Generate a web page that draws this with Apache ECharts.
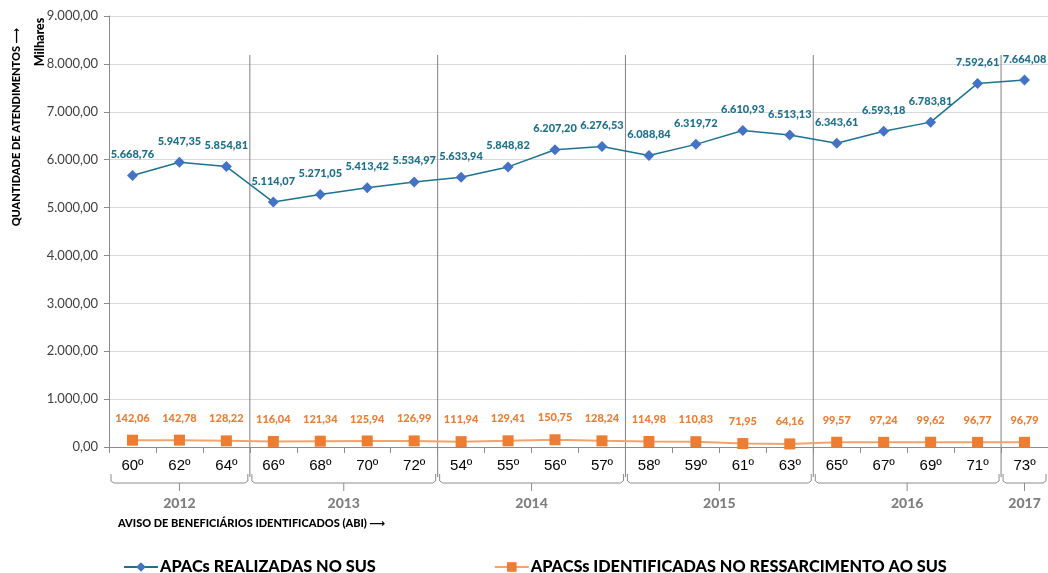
<!DOCTYPE html>
<html>
<head>
<meta charset="utf-8">
<script src="https://cdn.jsdelivr.net/npm/echarts@6/dist/echarts.min.js"></script>
<style>
  html, body { margin: 0; padding: 0; background: #fff; }
  #chart { width: 1048px; height: 573px; }
</style>
</head>
<body>
<div id="chart"></div>
<script>
// avisos (ABI), em ordem do gráfico
var categories = ["60º", "62º", "64º", "66º", "68º", "70º", "72º", "54º", "55º", "56º", "57º",
  "58º", "59º", "61º", "63º", "65º", "67º", "69º", "71º", "73º"];
// anos e quantos avisos cada um tem
var years = ["2012", "2013", "2014", "2015", "2016", "2017"];
var yearSizes = [3, 4, 4, 4, 4, 1];
// valores em milhares
var apacsSus = [5668.76, 5947.35, 5854.81, 5114.07, 5271.05, 5413.42, 5534.97, 5633.94, 5848.82,
  6207.20, 6276.53, 6088.84, 6319.72, 6610.93, 6513.13, 6343.61, 6593.18, 6783.81, 7592.61, 7664.08];
var apacsRessarcimento = [142.06, 142.78, 128.22, 116.04, 121.34, 125.94, 126.99, 111.94, 129.41,
  150.75, 128.24, 114.98, 110.83, 71.95, 64.16, 99.57, 97.24, 99.62, 96.77, 96.79];
var serieNames = ["APACs REALIZADAS NO SUS", "APACSs IDENTIFICADAS NO RESSARCIMENTO AO SUS"];

var FONT = "Lato, 'DejaVu Sans', sans-serif";

function fmt(v) {
  var parts = v.toFixed(2).split(".");
  var inteiro = parts[0].replace(/\B(?=(\d{3})+(?!\d))/g, ".");
  return inteiro + "," + parts[1];
}

var myChart = echarts.init(document.getElementById("chart"));
myChart.setOption({
  animation: false,
  textStyle: { fontFamily: FONT },
  grid: { left: 109, top: 16, width: 942, height: 431 },
  legend: {
    left: 118,
    top: 554,
    itemGap: 118,
    itemWidth: 34,
    itemHeight: 12,
    textStyle: { fontSize: 16.3, fontWeight: 900, color: "#000", fontFamily: FONT, padding: [0, 0, 0, -3] },
    data: serieNames
  },
  xAxis: {
    type: "category",
    data: categories,
    boundaryGap: true,
    axisLine: { lineStyle: { color: "#8c8c8c" } },
    axisTick: { show: true, length: 6, lineStyle: { color: "#8c8c8c" } },
    axisLabel: { color: "#000", fontSize: 15, margin: 11, fontFamily: "'Liberation Sans', Arial, sans-serif" }
  },
  yAxis: {
    type: "value",
    min: 0,
    max: 9000,
    interval: 1000,
    axisLine: { show: true, lineStyle: { color: "#8c8c8c" } },
    axisTick: { show: true, length: 5, lineStyle: { color: "#8c8c8c" } },
    axisLabel: { color: "#404040", fontSize: 13, margin: 11, formatter: fmt, fontFamily: FONT },
    splitLine: { lineStyle: { color: "#d9d9d9" } }
  },
  series: [
    {
      name: serieNames[0],
      type: "line",
      data: apacsSus,
      symbol: "diamond",
      symbolSize: 11,
      itemStyle: { color: "#4472c4" },
      lineStyle: { color: "#1b7391", width: 1.5 },
      label: {
        show: true,
        position: "top",
        distance: 10,
        color: "#1e6f8e",
        fontSize: 11,
        fontWeight: 900,
        formatter: function (p) { return fmt(p.value); }
      }
    },
    {
      name: serieNames[1],
      type: "line",
      data: apacsRessarcimento,
      symbol: "rect",
      symbolSize: 11,
      itemStyle: { color: "#ed7d31" },
      lineStyle: { color: "#f4a36c", width: 2 },
      label: {
        show: true,
        position: "top",
        distance: 11,
        color: "#ed7d31",
        fontSize: 11,
        fontWeight: 900,
        formatter: function (p) { return fmt(p.value); }
      }
    }
  ]
});

// separadores e chaves dos anos, posicionados a partir do eixo
function drawGroups() {
  var step = myChart.convertToPixel({ xAxisIndex: 0 }, 1) - myChart.convertToPixel({ xAxisIndex: 0 }, 0);
  var y0 = myChart.convertToPixel({ yAxisIndex: 0 }, 0);
  var topY = 55;
  var brY = y0 + 36;
  var g = [];
  var start = 0;
  years.forEach(function (yr, i) {
    var left = myChart.convertToPixel({ xAxisIndex: 0 }, start) - step / 2;
    var right = left + yearSizes[i] * step;
    var mid = (left + right) / 2;
    if (i < years.length - 1) {
      g.push({
        type: "line",
        shape: { x1: right, y1: topY, x2: right, y2: brY - 6 },
        style: { stroke: "#808080", lineWidth: 1 }
      });
    }
    var l = left + 2, r = right - 2;
    g.push({
      type: "polyline",
      shape: { points: [[l, brY - 9], [l, brY - 2], [l + 3, brY], [r - 3, brY], [r, brY - 2], [r, brY - 9]] },
      style: { stroke: "#8c8c8c", lineWidth: 1, fill: null }
    });
    g.push({
      type: "line",
      shape: { x1: mid, y1: brY, x2: mid, y2: brY + 8 },
      style: { stroke: "#8c8c8c", lineWidth: 1 }
    });
    g.push({
      type: "text",
      x: mid,
      y: brY + 20,
      style: { text: yr, fontSize: 14, fontWeight: 900, fill: "#7f7f7f", fontFamily: FONT, align: "center", verticalAlign: "middle" }
    });
    start += yearSizes[i];
  });
  g.push({
    type: "text",
    x: 16,
    y: 127,
    rotation: Math.PI / 2,
    style: { text: "QUANTIDADE DE ATENDIMENTOS ⟶", fontSize: 11, fontWeight: 900, fill: "#000", fontFamily: FONT, align: "center", verticalAlign: "middle" }
  });
  g.push({
    type: "text",
    x: 40,
    y: 42,
    rotation: Math.PI / 2,
    style: { text: "Milhares", fontSize: 12.5, fontWeight: 900, fill: "#000", fontFamily: FONT, align: "center", verticalAlign: "middle" }
  });
  g.push({
    type: "text",
    x: 118,
    y: 523,
    style: { text: "AVISO DE BENEFICIÁRIOS IDENTIFICADOS (ABI) ⟶", fontSize: 11, fontWeight: 900, fill: "#000", fontFamily: FONT, align: "left", verticalAlign: "middle" }
  });
  myChart.setOption({ graphic: g });
}
drawGroups();
</script>
</body>
</html>
